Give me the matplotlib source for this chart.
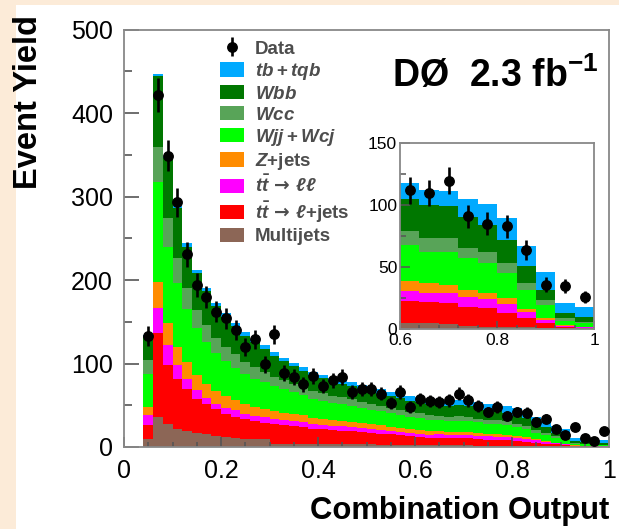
import numpy as np
import matplotlib.pyplot as plt
from matplotlib.patches import Patch, Rectangle
from matplotlib.ticker import MultipleLocator

plt.rcParams['font.family'] = ['Liberation Sans', 'DejaVu Sans']
plt.rcParams['mathtext.fontset'] = 'custom'
plt.rcParams['mathtext.rm'] = 'Liberation Sans:bold'
plt.rcParams['mathtext.it'] = 'Liberation Sans:italic:bold'
plt.rcParams['mathtext.bf'] = 'Liberation Sans:bold'
plt.rcParams['mathtext.sf'] = 'DejaVu Sans:bold'

# 48 bins of width 0.02 from 0.04 to 1.00
edges = np.round(np.linspace(0.04, 1.0, 49), 2)

multijets = [9, 36, 28, 22, 19, 17, 15, 13, 12, 11, 10, 10, 9, 4, 4, 4, 3.6, 3.5, 3.4, 3.3,
             3.2, 3.1, 3, 3, 2.9, 2.8, 2.7, 2.6, 2.6, 2.4, 2.5, 2.3, 2.1, 1.9, 1.4, 1.3, 1.1, 1.1,
             1.1, 1.1, 0.9, 0.7, 0.4, 0.4, 0.2, 0.1, 0.2, 0.1]
tt_ljets = [17, 101, 70, 60, 51, 41, 36, 33, 28, 25, 23, 21, 20, 23, 22, 21, 20.4, 18.5, 17.6, 16.7,
            16.3, 15.9, 15, 14, 13.1, 12.2, 11.3, 10.4, 9.4, 8.6, 8.8, 8.7, 8.6, 8.4, 8.1, 7.5, 7.6, 7.2,
            5.9, 4.8, 4.1, 3.2, 2.6, 2.0, 1.0, 0.9, 0.4, 0.4]
tt_ll = [12, 30, 24, 16, 12, 10, 8, 6, 7, 8, 7, 6.5, 6.5, 6.2, 6, 6, 5.8, 5.6, 5.5, 5.3,
         5.2, 5, 4.8, 4.6, 4.5, 4.3, 4.1, 4, 3.9, 3.7, 3.7, 3.6, 4, 4, 4.1, 3.9, 3.7, 3.5,
         3.9, 3.6, 2.8, 2.5, 1.2, 0.9, 0.4, 0.4, 0.4, 0.4]
zjets = [10, 31, 27, 22, 20, 18, 16, 15, 14, 12, 11, 10.5, 10, 9.5, 9, 8.5, 8, 7.5, 7.2, 6.9,
         6.6, 6.3, 6, 5.7, 5.4, 5.1, 4.8, 4.5, 4.1, 3.9, 3.8, 3.6, 3.5, 3.3, 2.8, 2.6, 2.8, 2.6,
         2.4, 2.2, 1.2, 1.0, 0.8, 0.6, 0.3, 0.2, 0.2, 0.1]
wjj = [40, 119, 91, 76, 63, 56, 51, 46, 42, 39, 36, 34, 32, 30, 28, 26, 24, 23, 22, 21,
       20, 19.2, 18.4, 17.6, 16.9, 16.2, 15.5, 15, 14.7, 14.3, 13, 12.6, 13.5, 13.3, 13, 12.6, 12, 11.6,
       10.5, 9.7, 8.2, 7.1, 5.8, 4.9, 1.9, 1.6, 1.4, 1.2]
wcc = [16, 42, 34, 30, 25, 22, 20, 18, 17, 16, 14.5, 13.5, 12.5, 11.7, 11, 10.4, 9.8, 9.3, 8.9, 8.5,
       8.1, 7.7, 7.3, 7, 6.7, 6.4, 6.1, 5.8, 5.7, 5.6, 5.8, 5.6, 5.8, 5.6, 4.1, 3.9, 4.8, 4.6,
       4.1, 3.9, 3.1, 2.8, 2.2, 1.9, 1.0, 0.9, 0.8, 0.6]
wbb = [29, 85, 72, 60, 50, 44, 41, 38, 36, 34, 32, 30, 28, 25, 23, 21, 20, 19, 18, 17.2,
       16.6, 16, 15.4, 15, 14.6, 14.2, 13.8, 13.4, 13.2, 12.8, 13.2, 12.8, 12.9, 12.6, 12.7, 12.3, 10.9, 10.5,
       9.6, 9.2, 7, 6.4, 4.2, 3.8, 2.4, 2.1, 1.8, 1.7]
tb_tqb = [1, 3, 2, 3, 4, 4, 4, 4, 4, 4, 4, 4, 4, 4, 4, 4, 4, 4, 4.2, 4.3,
          4.4, 4.5, 4.6, 4.7, 4.8, 5, 5.2, 5.5, 6.4, 6.3, 6.2, 6.2, 6.2, 6.1, 7.4, 7.3, 8.6, 8.4,
          8.9, 8.6, 8.3, 7.9, 7.6, 7.2, 4.1, 4, 4.4, 4.2]
data = [133, 422, 349, 293, 231, 194, 180, 162, 154, 140, 120, 129, 99, 135, 89, 84, 75, 85, 73, 80,
        84, 66, 69, 69, 64, 53, 66, 48, 57, 55, 54, 56, 64, 56, 49, 42, 48, 37,
        42, 41, 30, 34, 22, 14, 24, 11, 7, 19]

components = [
    (multijets, '#8c6656', 'Multijets'),
    (tt_ljets, '#ff0000', r'$t\bar{t}\,\mathsf{\rightarrow}\,\ell$+jets'),
    (tt_ll, '#ff00ff', r'$t\bar{t}\,\mathsf{\rightarrow}\,\ell\ell$'),
    (zjets, '#ff8c00', r'$Z$+jets'),
    (wjj, '#00ff00', r'$Wjj+Wcj$'),
    (wcc, '#58a458', r'$Wcc$'),
    (wbb, '#007700', r'$Wbb$'),
    (tb_tqb, '#00aaff', r'$tb+tqb$'),
]

fig = plt.figure(figsize=(6.19, 5.29), dpi=100, facecolor='#fcebd8')
fig.patches.append(Rectangle((16 / 619, 0), 1, 1 - 5 / 529, transform=fig.transFigure,
                             facecolor='white', edgecolor='none', zorder=-10))

def draw_stack(ax, bin_edges, comps, counts, ms):
    base = np.zeros(len(bin_edges) - 1)
    for vals, color, label in comps:
        vals = np.asarray(vals, dtype=float)
        ax.stairs(base + vals, bin_edges, baseline=base, fill=True, color=color, lw=0)
        base = base + vals
    centers = 0.5 * (bin_edges[:-1] + bin_edges[1:])
    counts = np.asarray(counts, dtype=float)
    return ax.errorbar(centers, counts, yerr=np.sqrt(counts), fmt='o', color='black',
                       ms=ms, elinewidth=1.9, capsize=0, zorder=5)

def style_frame(ax):
    for s in ax.spines.values():
        s.set_color('#888888')
        s.set_linewidth(1.3)

# main panel
ax = fig.add_axes([124 / 619, 82 / 529, 485 / 619, 417.3 / 529])
ax.set_zorder(1)
data_handle = draw_stack(ax, edges, components, data, 6.8)
ax.set_xlim(0, 1)
ax.set_ylim(0, 500)
ax.set_xticks([0, 0.2, 0.4, 0.6, 0.8, 1.0], ['0', '0.2', '0.4', '0.6', '0.8', '1'])
ax.set_yticks([0, 100, 200, 300, 400, 500], ['0', '100', '200', '300', '400', '500'])
ax.xaxis.set_minor_locator(MultipleLocator(0.05))
ax.yaxis.set_minor_locator(MultipleLocator(50))
ax.tick_params(axis='both', which='both', direction='in', color='#555555', width=1.2,
               labelsize=18, top=False, right=False)
ax.tick_params(axis='x', which='major', length=7, pad=9)
ax.tick_params(axis='x', which='minor', length=3.6)
ax.tick_params(axis='y', which='major', length=11, pad=8)
ax.tick_params(axis='y', which='minor', length=6)
style_frame(ax)

fig.text(29 / 619, 1 - 15 / 529, 'Event Yield', rotation=90, ha='center', va='top',
         fontsize=23.5, fontweight='bold')
fig.text(609 / 619, 1 - 511 / 529, 'Combination Output', ha='right', va='center',
         fontsize=22.3, fontweight='bold')
fig.text(599 / 619, 1 - 87 / 529, r'DØ  2.3 fb$^{\mathbf{-1}}$', ha='right', va='baseline',
         fontsize=27, fontweight='bold', zorder=5)

handles = [data_handle] + [Patch(facecolor=c, edgecolor='none') for _, c, _ in components[::-1]]
labels = ['Data'] + [lab for _, _, lab in components[::-1]]
leg = ax.legend(handles, labels, loc='upper left', bbox_to_anchor=(220 / 619, 1 - 40 / 529),
                bbox_transform=fig.transFigure, frameon=False, fontsize=13.5, borderpad=0,
                borderaxespad=0, labelspacing=0.17, handlelength=1.3, handleheight=0.8,
                handletextpad=0.55)
for t in leg.get_texts():
    t.set_color('#4d4d4d')
    t.set_fontweight('bold')

# inset: last 20 bins merged in pairs
k = 28
in_edges = edges[k::2]
in_comps = [(np.asarray(v[k:], dtype=float).reshape(-1, 2).sum(axis=1), c, lab)
            for v, c, lab in components]
in_data = np.asarray(data[k:], dtype=float).reshape(-1, 2).sum(axis=1)

ins = fig.add_axes([400 / 619, 199.7 / 529, 194.3 / 619, 186 / 529])
ins.set_zorder(2)
draw_stack(ins, in_edges, in_comps, in_data, 6.8)
ins.set_xlim(0.6, 1.0)
ins.set_ylim(0, 150)
ins.set_xticks([0.6, 0.8, 1.0], ['0.6', '0.8', '1'])
ins.xaxis.set_minor_locator(MultipleLocator(0.04))
ins.set_yticks([0, 50, 100, 150], ['0', '50', '100', '150'])
ins.yaxis.set_minor_locator(MultipleLocator(25))
ins.tick_params(axis='both', which='both', direction='in', color='#555555', width=1.1,
                labelsize=12.5, top=False, right=False)
ins.tick_params(axis='x', which='major', length=6, pad=3)
ins.tick_params(axis='x', which='minor', length=3)
ins.tick_params(axis='y', which='major', length=7, pad=2)
ins.tick_params(axis='y', which='minor', length=4)
style_frame(ins)

fig.savefig('out.png', dpi=100, facecolor=fig.get_facecolor())
